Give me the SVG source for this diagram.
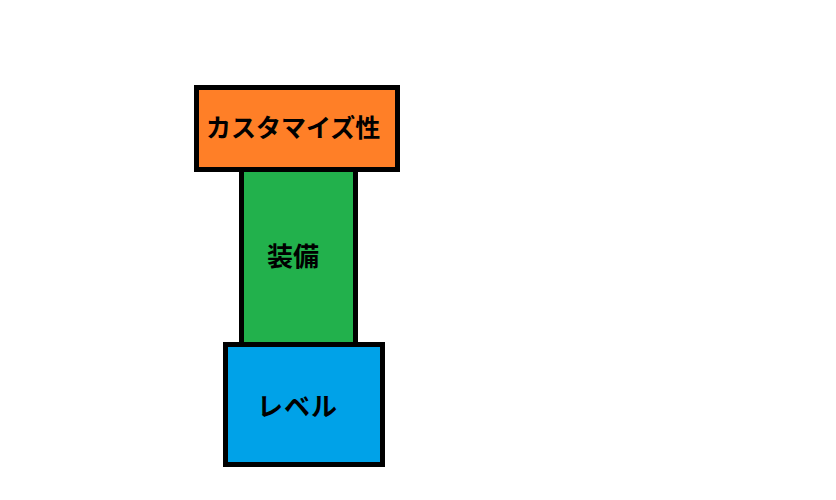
<svg xmlns="http://www.w3.org/2000/svg" width="836" height="500" viewBox="0 0 836 500">
<style>
.box{stroke:#000;stroke-width:5}
.t{font-family:"Noto Sans CJK JP","Noto Sans CJK SC",sans-serif;font-weight:bold;font-size:26px;fill:#000}
</style>
<rect width="836" height="500" fill="#fff"/>
<g id="customize">
<rect class="box" x="196.5" y="87.5" width="201" height="82" fill="#FF7F27"/>
<text class="t" x="206" y="137" style="font-size:25px">カスタマイズ性</text>
</g>
<g id="equipment">
<rect class="box" x="241.5" y="169.5" width="114" height="175" fill="#22B14C"/>
<text class="t" x="267" y="266">装備</text>
</g>
<g id="level">
<rect class="box" x="225.5" y="344.5" width="157" height="120" fill="#00A2E8"/>
<text class="t" x="257" y="416" letter-spacing="1">レベル</text>
</g>
<g id="connectors"></g>
</svg>
